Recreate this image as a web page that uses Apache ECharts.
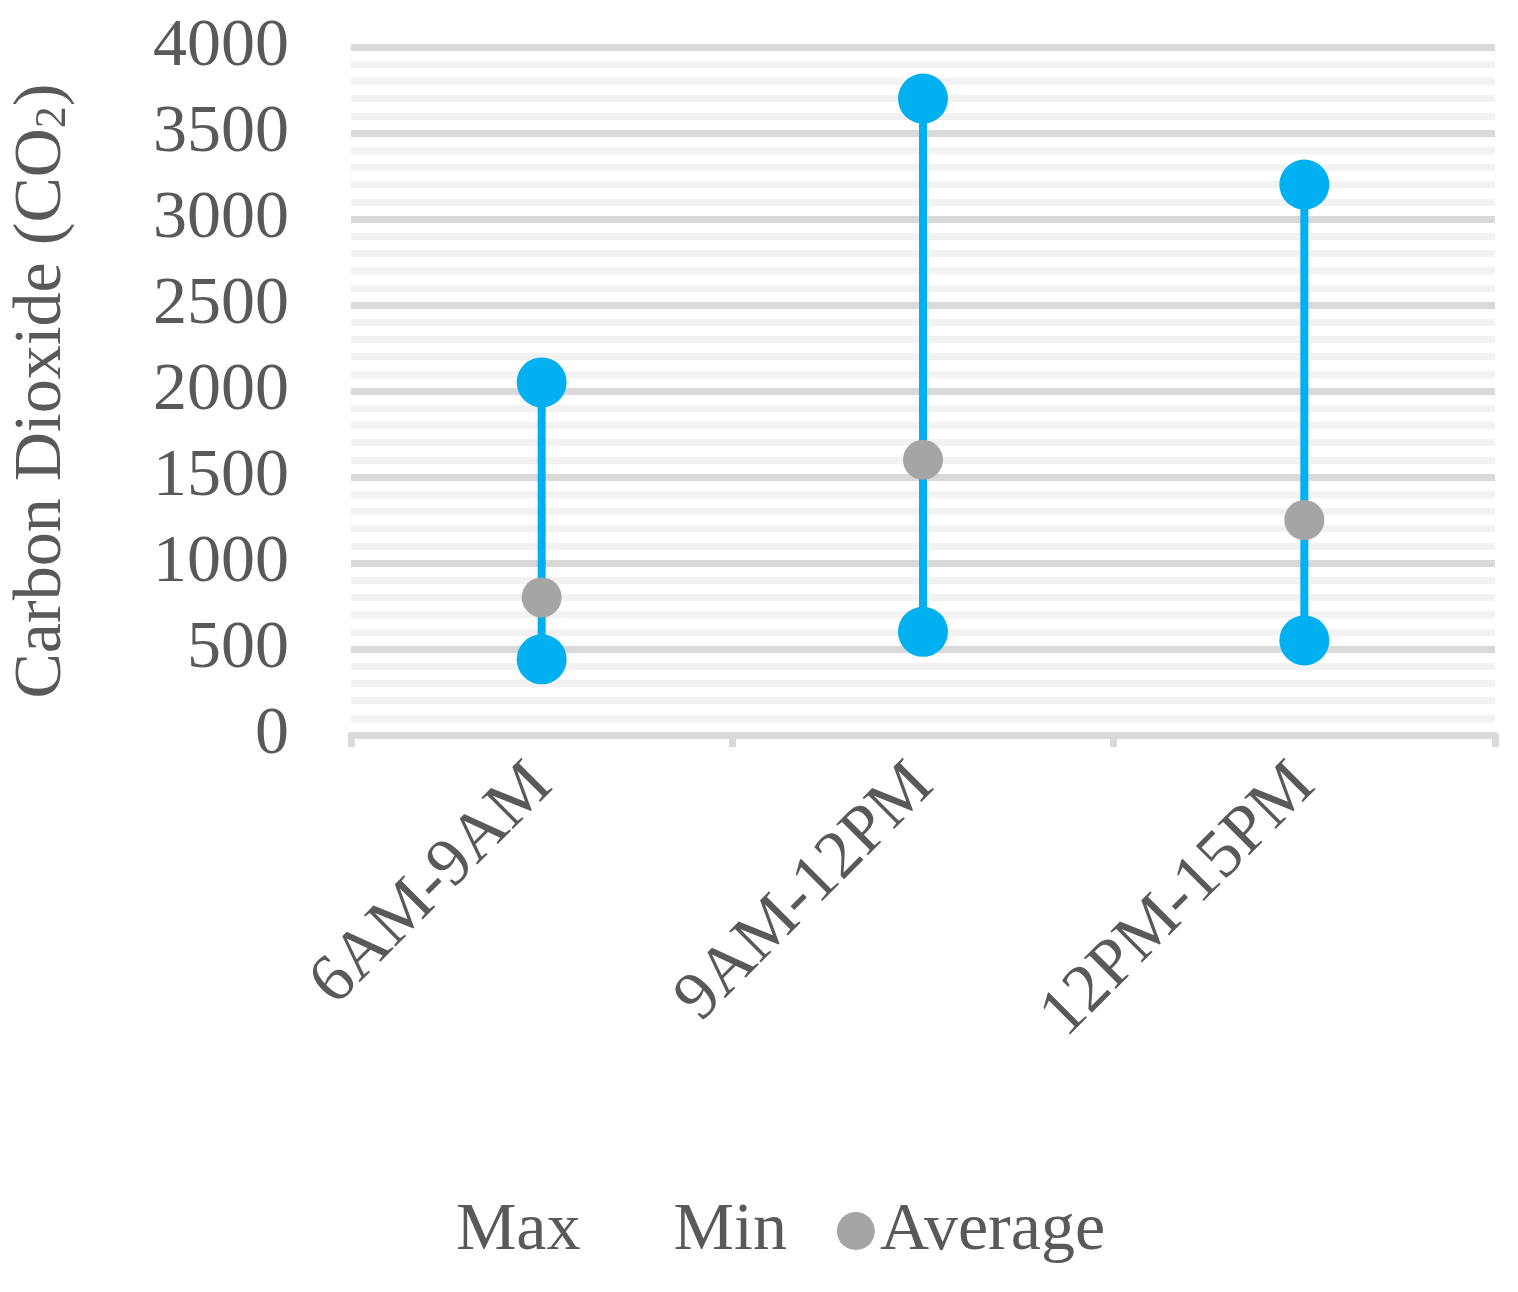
<!DOCTYPE html>
<html>
<head>
<meta charset="utf-8">
<script src="https://cdn.jsdelivr.net/npm/echarts@6/dist/echarts.min.js"></script>
<style>html,body{margin:0;padding:0;background:#fff}#chart{width:1518px;height:1292px}</style>
</head>
<body>
<div id="chart"></div>
<script>
// 数据
const categories = ['6AM-9AM', '9AM-12PM', '12PM-15PM']
const maxValues = [2050, 3700, 3200]
const minValues = [440, 600, 550]
const avgValues = [800, 1600, 1250]

const font = 'Liberation Serif'
const txt = '#595959'
const blue = '#00b0f0'

const myChart = echarts.init(document.getElementById('chart'))
myChart.setOption({
  animation: false,
  grid: { left: 335, right: 23, top: 47, bottom: 557 },
  legend: {
    bottom: 22,
    left: 'center',
    itemGap: 50,
    itemWidth: 38,
    itemHeight: 38,
    textStyle: { fontFamily: font, fontSize: 68, color: txt },
    data: [
      { name: 'Max', icon: 'circle', itemStyle: { opacity: 0 } },
      { name: 'Min', icon: 'circle', itemStyle: { opacity: 0 } },
      { name: 'Average', icon: 'circle' }
    ]
  },
  xAxis: {
    type: 'category',
    data: categories,
    boundaryGap: true,
    axisLine: { lineStyle: { color: '#d9d9d9', width: 7 } },
    axisTick: { show: true, length: 12, lineStyle: { color: '#d9d9d9', width: 7 } },
    axisLabel: { rotate: 45, margin: 40, fontFamily: font, fontSize: 68, color: txt }
  },
  yAxis: {
    type: 'value',
    min: 0,
    max: 4000,
    interval: 500,
    name: '{n|Carbon Dioxide (CO}{s|2}{n|)}',
    nameLocation: 'middle',
    nameRotate: 90,
    nameGap: 275,
    nameTextStyle: {
      rich: {
        n: { fontFamily: font, fontSize: 68, color: txt },
        s: { fontFamily: font, fontSize: 44, color: txt, padding: [0, 0, -22, 0] }
      }
    },
    axisLine: { show: false },
    axisTick: { show: false },
    axisLabel: { margin: 62, fontFamily: font, fontSize: 68, color: txt, formatter: v => String(v) },
    splitLine: { lineStyle: { color: '#d9d9d9', width: 7 } },
    minorTick: { show: false, splitNumber: 5 },
    minorSplitLine: { show: true, lineStyle: { color: '#f2f2f2', width: 7 } }
  },
  series: [
    {
      type: 'custom',
      silent: true,
      z: 1,
      data: categories.map((c, i) => [i, minValues[i], maxValues[i]]),
      renderItem: (params, api) => {
        const p1 = api.coord([api.value(0), api.value(1)])
        const p2 = api.coord([api.value(0), api.value(2)])
        return {
          type: 'line',
          shape: { x1: p1[0], y1: p1[1], x2: p2[0], y2: p2[1] },
          style: { stroke: blue, lineWidth: 8 }
        }
      }
    },
    { name: 'Max', type: 'scatter', z: 3, symbolSize: 50, itemStyle: { color: blue, opacity: 1 }, data: maxValues },
    { name: 'Min', type: 'scatter', z: 3, symbolSize: 50, itemStyle: { color: blue, opacity: 1 }, data: minValues },
    { name: 'Average', type: 'scatter', z: 4, symbolSize: 40, itemStyle: { color: '#a5a5a5', opacity: 1 }, data: avgValues }
  ]
})
</script>
</body>
</html>
